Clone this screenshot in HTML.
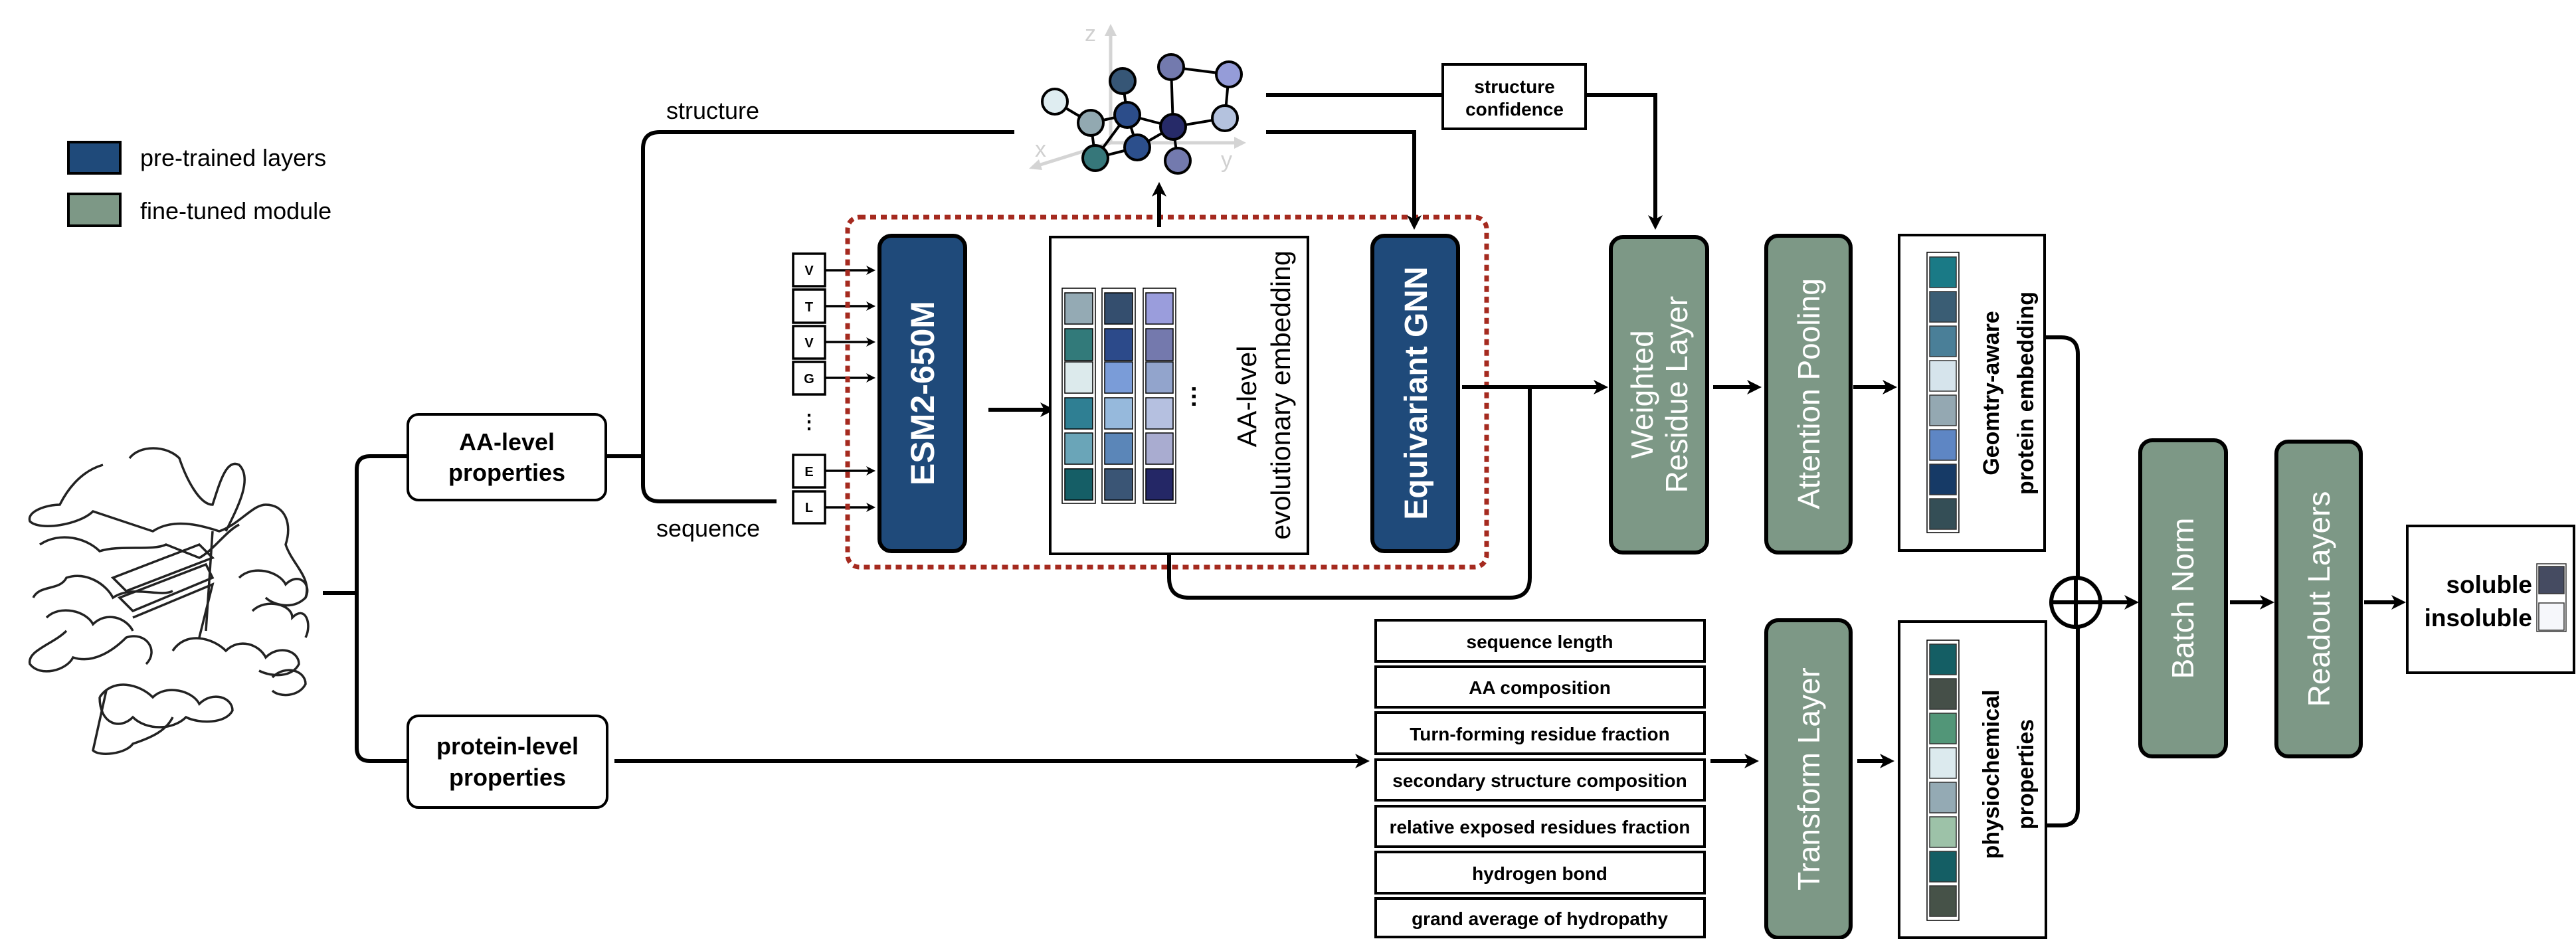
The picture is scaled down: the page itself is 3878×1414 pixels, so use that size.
<!DOCTYPE html>
<html><head><meta charset="utf-8"><style>
html,body{margin:0;padding:0;background:#fff;}
svg{display:block;font-family:"Liberation Sans",Arial,sans-serif;}
</style></head><body>
<svg width="3878" height="1414" viewBox="0 0 3878 1414" xmlns="http://www.w3.org/2000/svg">
<style>
.ln{fill:none;stroke:#000;stroke-width:6}
.thin{fill:none;stroke:#000;stroke-width:3.5}
</style>

<!-- legend -->
<rect x="103" y="214" width="78" height="47" fill="#1f4a7a" stroke="#000" stroke-width="4"/>
<rect x="103" y="292" width="78" height="48" fill="#7d9886" stroke="#000" stroke-width="4"/>
<text x="211" y="250" font-size="36">pre-trained layers</text>
<text x="211" y="330" font-size="36">fine-tuned module</text>

<!-- protein cartoon (approximation) -->
<g fill="none" stroke="#222" stroke-width="3.5">
<path d="M155 700 C120 710 100 740 90 760 C70 760 40 770 45 785 C60 800 120 790 140 770 C170 780 200 790 230 800 C260 780 300 790 330 800 C360 790 380 760 400 760 C430 760 440 790 430 820 C440 850 470 870 460 900"/>
<path d="M60 820 C90 800 130 810 150 830 C180 820 230 830 250 820 L300 840 C320 830 340 800 360 790"/>
<path d="M50 900 C60 880 90 890 100 870 C130 860 160 880 170 900 C200 880 240 900 260 890"/>
<path d="M195 690 C210 670 250 670 270 690 C280 720 300 760 320 760 C330 730 340 690 360 700 C380 720 360 760 340 800"/>
<path d="M100 950 C80 970 40 980 45 1000 C60 1020 100 1010 110 990 C140 1000 170 980 190 960 C220 950 240 980 220 1000"/>
<path d="M150 1050 C170 1020 210 1030 230 1050 C250 1030 290 1040 300 1060 C320 1040 350 1050 350 1070 C340 1090 300 1090 280 1080 C260 1100 220 1100 200 1080 C180 1100 150 1090 150 1050"/>
<path d="M260 980 C280 950 320 960 340 980 C360 960 390 970 400 990 C420 970 450 980 450 1000 C440 1020 410 1020 390 1010"/>
<path d="M360 870 C380 850 420 860 430 880 C450 860 470 880 460 900 C440 920 410 910 400 900"/>
<path d="M170 870 L300 820 L320 840 L190 890 Z"/>
<path d="M180 900 L310 850 L320 870 L200 920 Z"/>
<path d="M200 930 L320 880 L300 960"/>
<path d="M320 800 L310 950"/>
<path d="M70 930 C90 910 130 920 140 940 C160 920 190 930 200 950"/>
<path d="M380 920 C400 900 440 910 440 930 C460 910 470 940 460 960"/>
<path d="M410 1020 C430 1000 460 1010 460 1030 C450 1050 420 1050 410 1040"/>
<path d="M160 1040 L140 1130 C150 1140 190 1135 200 1120 C230 1110 250 1100 260 1080"/>
</g>

<!-- left tree -->
<path class="ln" d="M486 893 H537"/>
<path class="ln" d="M614 687 H557 Q537 687 537 707 V1126 Q537 1146 557 1146 H614"/>
<rect x="614" y="624" width="298" height="129" rx="16" fill="#fff" stroke="#000" stroke-width="4"/>
<text x="763" y="678" font-size="36" font-weight="bold" text-anchor="middle">AA-level</text>
<text x="763" y="724" font-size="36" font-weight="bold" text-anchor="middle">properties</text>
<rect x="614" y="1078" width="300" height="138" rx="16" fill="#fff" stroke="#000" stroke-width="4"/>
<text x="764" y="1136" font-size="36" font-weight="bold" text-anchor="middle">protein-level</text>
<text x="764" y="1183" font-size="36" font-weight="bold" text-anchor="middle">properties</text>

<!-- structure/sequence -->
<path class="ln" d="M912 687 H968"/>
<path class="ln" d="M1527 199 H993 Q968 199 968 224 V730 Q968 755 993 755 H1169"/>
<text x="1003" y="179" font-size="36">structure</text>
<text x="988" y="808" font-size="36">sequence</text>

<!-- tokens -->
<g font-size="20" font-weight="bold" text-anchor="middle">
<rect x="1194" y="382" width="48" height="49" fill="#fff" stroke="#000" stroke-width="3.5"/><text x="1218" y="414">V</text>
<rect x="1194" y="436" width="48" height="50" fill="#fff" stroke="#000" stroke-width="3.5"/><text x="1218" y="469">T</text>
<rect x="1194" y="491" width="48" height="49" fill="#fff" stroke="#000" stroke-width="3.5"/><text x="1218" y="523">V</text>
<rect x="1194" y="545" width="48" height="49" fill="#fff" stroke="#000" stroke-width="3.5"/><text x="1218" y="577">G</text>
<text x="1218" y="645" font-size="30">⋮</text>
<rect x="1194" y="685" width="48" height="49" fill="#fff" stroke="#000" stroke-width="3.5"/><text x="1218" y="717">E</text>
<rect x="1194" y="740" width="48" height="48" fill="#fff" stroke="#000" stroke-width="3.5"/><text x="1218" y="771">L</text>
</g>
<g class="thin">
<path d="M1242 407 H1312"/><path d="M1242 461 H1312"/><path d="M1242 515 H1312"/><path d="M1242 569 H1312"/><path d="M1242 709 H1312"/><path d="M1242 764 H1312"/>
</g>
<g fill="#000">
<path d="M1318 407 l-14 -7 l4 7 l-4 7z"/><path d="M1318 461 l-14 -7 l4 7 l-4 7z"/><path d="M1318 515 l-14 -7 l4 7 l-4 7z"/><path d="M1318 569 l-14 -7 l4 7 l-4 7z"/><path d="M1318 709 l-14 -7 l4 7 l-4 7z"/><path d="M1318 764 l-14 -7 l4 7 l-4 7z"/>
</g>

<!-- red dotted -->
<rect x="1276" y="327" width="962" height="527" rx="18" fill="none" stroke="#a52a1f" stroke-width="7" stroke-dasharray="9,7"/>

<!-- ESM -->
<rect x="1324" y="355" width="129" height="475" rx="18" fill="#1f4a7a" stroke="#000" stroke-width="6"/>
<text transform="translate(1406,592) rotate(-90)" font-size="50" font-weight="bold" fill="#fff" text-anchor="middle">ESM2-650M</text>
<path class="ln" d="M1488 617 H1572"/><path d="M1588 617 l-22 -11 l6 11 l-6 11z"/>

<!-- embedding box -->
<rect x="1581" y="357" width="388" height="477" fill="#fff" stroke="#000" stroke-width="4"/>
<g stroke="#000" stroke-width="1.5">
<rect x="1599" y="434" width="50" height="324" fill="#fff"/>
<rect x="1659" y="434" width="50" height="324" fill="#fff"/>
<rect x="1721" y="434" width="49" height="324" fill="#fff"/>
<rect x="1603" y="441" width="42" height="47" fill="#94aab4"/><rect x="1603" y="495" width="42" height="48" fill="#327a7a"/><rect x="1603" y="545" width="42" height="47" fill="#dceaec"/><rect x="1603" y="599" width="42" height="47" fill="#2f7f93"/><rect x="1603" y="652" width="42" height="47" fill="#6aa5b8"/><rect x="1603" y="706" width="42" height="47" fill="#155e66"/>
<rect x="1663" y="441" width="42" height="47" fill="#344e6e"/><rect x="1663" y="495" width="42" height="48" fill="#2c4a8a"/><rect x="1663" y="545" width="42" height="47" fill="#7a9cd8"/><rect x="1663" y="599" width="42" height="47" fill="#96b9dc"/><rect x="1663" y="652" width="42" height="47" fill="#5b86b8"/><rect x="1663" y="706" width="42" height="47" fill="#3a5575"/>
<rect x="1725" y="441" width="41" height="47" fill="#9a9ddc"/><rect x="1725" y="495" width="41" height="48" fill="#7479ad"/><rect x="1725" y="545" width="41" height="47" fill="#92a4cc"/><rect x="1725" y="599" width="41" height="47" fill="#b5c0e0"/><rect x="1725" y="652" width="41" height="47" fill="#a9acd0"/><rect x="1725" y="706" width="41" height="47" fill="#242766"/>
</g>
<text transform="translate(1800,597) rotate(-90)" font-size="36" font-weight="bold" text-anchor="middle">…</text>
<text transform="translate(1891,597) rotate(-90)" font-size="41" text-anchor="middle">AA-level</text>
<text transform="translate(1942,595) rotate(-90)" font-size="41" text-anchor="middle">evolutionary embedding</text>
<path class="ln" d="M1745 342 V288"/><path d="M1745 274 l-11 22 l11 -6 l11 6z"/>

<!-- graph -->
<g stroke="#d4d4d4" stroke-width="5" fill="#d4d4d4">
<path d="M1672 215 V48" fill="none"/><path d="M1672 36 l-9 18 h18z" stroke="none"/>
<path d="M1672 215 H1862" fill="none"/><path d="M1876 215 l-18 -9 v18z" stroke="none"/>
<path d="M1672 215 L1560 250" fill="none"/><path d="M1549 254 l20 2 l-5 -16z" stroke="none"/>
</g>
<g fill="#d0d0d0" font-size="34"><text x="1633" y="62">z</text><text x="1558" y="236">x</text><text x="1838" y="252">y</text></g>
<g stroke="#000" stroke-width="4">
<line x1="1588" y1="153" x2="1642" y2="185"/><line x1="1642" y1="185" x2="1697" y2="173"/><line x1="1690" y1="122" x2="1697" y2="173"/>
<line x1="1642" y1="185" x2="1649" y2="238"/><line x1="1697" y1="173" x2="1649" y2="238"/><line x1="1649" y1="238" x2="1712" y2="222"/>
<line x1="1697" y1="173" x2="1712" y2="222"/><line x1="1697" y1="173" x2="1766" y2="191"/><line x1="1712" y1="222" x2="1766" y2="191"/>
<line x1="1763" y1="101" x2="1766" y2="191"/><line x1="1763" y1="101" x2="1850" y2="112"/><line x1="1850" y1="112" x2="1844" y2="178"/>
<line x1="1766" y1="191" x2="1844" y2="178"/><line x1="1766" y1="191" x2="1773" y2="242"/>
</g>
<g stroke="#000" stroke-width="4">
<circle cx="1588" cy="153" r="19" fill="#dfedf1"/><circle cx="1642" cy="185" r="19" fill="#92a9b1"/><circle cx="1690" cy="122" r="19" fill="#365676"/>
<circle cx="1697" cy="173" r="19" fill="#2c4d8a"/><circle cx="1763" cy="101" r="19" fill="#737aae"/><circle cx="1850" cy="112" r="19" fill="#959cd8"/>
<circle cx="1766" cy="191" r="19" fill="#262a68"/><circle cx="1844" cy="178" r="19" fill="#b4c2de"/><circle cx="1712" cy="222" r="19" fill="#2c4f8c"/>
<circle cx="1649" cy="238" r="19" fill="#36777a"/><circle cx="1773" cy="242" r="19" fill="#737aae"/>
</g>

<!-- structure confidence -->
<path class="ln" d="M1906 143 H2172"/>
<rect x="2172" y="97" width="215" height="97" fill="#fff" stroke="#000" stroke-width="4"/>
<text x="2280" y="140" font-size="28" font-weight="bold" text-anchor="middle">structure</text>
<text x="2280" y="174" font-size="28" font-weight="bold" text-anchor="middle">confidence</text>
<path class="ln" d="M2387 143 H2492 V330"/><path d="M2492 346 l-11 -22 l11 6 l11 -6z"/>
<path class="ln" d="M1906 199 H2129 V330"/><path d="M2129 346 l-11 -22 l11 6 l11 -6z"/>

<!-- GNN -->
<rect x="2066" y="355" width="129" height="475" rx="18" fill="#1f4a7a" stroke="#000" stroke-width="6"/>
<text transform="translate(2148,592) rotate(-90)" font-size="48" font-weight="bold" fill="#fff" text-anchor="middle">Equivariant GNN</text>
<path class="ln" d="M2201 583 H2405"/><path d="M2421 583 l-22 -11 l6 11 l-6 11z"/>
<path class="ln" d="M1760 834 V870 Q1760 900 1790 900 H2273 Q2303 900 2303 870 V583"/>

<!-- weighted -->
<rect x="2425" y="357" width="145" height="475" rx="18" fill="#7d9886" stroke="#000" stroke-width="6"/>
<text transform="translate(2496,594) rotate(-90)" font-size="46" fill="#fff" text-anchor="middle"><tspan x="0" dy="-8">Weighted</tspan><tspan x="0" dy="52">Residue Layer</tspan></text>
<path class="ln" d="M2579 583 H2636"/><path d="M2652 583 l-22 -11 l6 11 l-6 11z"/>

<!-- attention -->
<rect x="2659" y="355" width="127" height="477" rx="18" fill="#7d9886" stroke="#000" stroke-width="6"/>
<text transform="translate(2739,593) rotate(-90)" font-size="46" fill="#fff" text-anchor="middle">Attention Pooling</text>
<path class="ln" d="M2790 583 H2840"/><path d="M2856 583 l-22 -11 l6 11 l-6 11z"/>

<!-- geo embedding -->
<rect x="2859" y="354" width="219" height="475" fill="#fff" stroke="#000" stroke-width="4"/>
<rect x="2901" y="380" width="48" height="422" fill="#fff" stroke="#000" stroke-width="1.5"/>
<g stroke="#333" stroke-width="1.5">
<rect x="2905" y="387" width="40" height="46" fill="#1a7a86"/><rect x="2905" y="439" width="40" height="46" fill="#3a5d74"/><rect x="2905" y="491" width="40" height="46" fill="#4a7f98"/><rect x="2905" y="543" width="40" height="46" fill="#d6e4ec"/>
<rect x="2905" y="595" width="40" height="46" fill="#94a8b2"/><rect x="2905" y="647" width="40" height="46" fill="#5e86c4"/><rect x="2905" y="699" width="40" height="46" fill="#163a66"/><rect x="2905" y="751" width="40" height="46" fill="#344e56"/>
</g>
<text transform="translate(3023,592) rotate(-90)" font-size="34" font-weight="bold" text-anchor="middle"><tspan x="0" dy="-14">Geomtry-aware</tspan><tspan x="0" dy="52">protein embedding</tspan></text>

<!-- property list -->
<path class="ln" d="M925 1146 H2046"/><path d="M2062 1146 l-22 -11 l6 11 l-6 11z"/>
<g fill="#fff" stroke="#000" stroke-width="4">
<rect x="2071" y="934" width="495" height="62"/><rect x="2071" y="1004" width="495" height="61"/><rect x="2071" y="1073" width="495" height="62"/>
<rect x="2071" y="1144" width="495" height="61"/><rect x="2071" y="1214" width="495" height="61"/><rect x="2071" y="1283" width="495" height="62"/><rect x="2071" y="1353" width="495" height="58"/>
</g>
<g font-size="28" font-weight="bold" text-anchor="middle">
<text x="2318" y="976">sequence length</text><text x="2318" y="1045">AA composition</text><text x="2318" y="1115">Turn-forming residue fraction</text>
<text x="2318" y="1185">secondary structure composition</text><text x="2318" y="1255">relative exposed residues fraction</text><text x="2318" y="1325">hydrogen bond</text><text x="2318" y="1393">grand average of hydropathy</text>
</g>
<path class="ln" d="M2575 1146 H2632"/><path d="M2648 1146 l-22 -11 l6 11 l-6 11z"/>

<!-- transform -->
<rect x="2659" y="934" width="127" height="478" rx="18" fill="#7d9886" stroke="#000" stroke-width="6"/>
<text transform="translate(2739,1173) rotate(-90)" font-size="46" fill="#fff" text-anchor="middle">Transform Layer</text>
<path class="ln" d="M2796 1146 H2836"/><path d="M2852 1146 l-22 -11 l6 11 l-6 11z"/>

<!-- physio -->
<rect x="2859" y="936" width="221" height="476" fill="#fff" stroke="#000" stroke-width="4"/>
<rect x="2901" y="964" width="48" height="422" fill="#fff" stroke="#000" stroke-width="1.5"/>
<g stroke="#333" stroke-width="1.5">
<rect x="2905" y="970" width="40" height="46" fill="#145e64"/><rect x="2905" y="1022" width="40" height="46" fill="#454f48"/><rect x="2905" y="1074" width="40" height="46" fill="#529678"/><rect x="2905" y="1126" width="40" height="46" fill="#dceaee"/>
<rect x="2905" y="1178" width="40" height="46" fill="#94aab4"/><rect x="2905" y="1230" width="40" height="46" fill="#9dc2a8"/><rect x="2905" y="1282" width="40" height="46" fill="#145e64"/><rect x="2905" y="1334" width="40" height="46" fill="#465248"/>
</g>
<text transform="translate(3023,1166) rotate(-90)" font-size="34" font-weight="bold" text-anchor="middle"><tspan x="0" dy="-14">physiochemical</tspan><tspan x="0" dy="52">properties</tspan></text>

<!-- merge -->
<path class="ln" d="M3080 508 H3103 Q3128 508 3128 533 V1218 Q3128 1243 3103 1243 H3080"/>
<circle cx="3125" cy="907" r="37" fill="#fff" stroke="#000" stroke-width="6"/>
<path class="ln" d="M3125 870 V944 M3088 907 H3162"/>
<path class="ln" d="M3162 907 H3204"/><path d="M3220 907 l-22 -11 l6 11 l-6 11z"/>

<!-- batch norm / readout -->
<rect x="3222" y="663" width="129" height="476" rx="18" fill="#7d9886" stroke="#000" stroke-width="6"/>
<text transform="translate(3302,901) rotate(-90)" font-size="46" fill="#fff" text-anchor="middle">Batch Norm</text>
<path class="ln" d="M3357 907 H3408"/><path d="M3424 907 l-22 -11 l6 11 l-6 11z"/>
<rect x="3427" y="665" width="127" height="474" rx="18" fill="#7d9886" stroke="#000" stroke-width="6"/>
<text transform="translate(3507,902) rotate(-90)" font-size="46" fill="#fff" text-anchor="middle">Readout Layers</text>
<path class="ln" d="M3559 907 H3606"/><path d="M3622 907 l-22 -11 l6 11 l-6 11z"/>

<!-- output -->
<rect x="3624" y="792" width="251" height="221" fill="#fff" stroke="#000" stroke-width="4"/>
<text x="3812" y="893" font-size="37" font-weight="bold" text-anchor="end">soluble</text>
<text x="3812" y="943" font-size="37" font-weight="bold" text-anchor="end">insoluble</text>
<rect x="3819" y="849" width="44" height="102" fill="#fff" stroke="#333" stroke-width="1.5"/>
<rect x="3822" y="853" width="38" height="41" fill="#454b61" stroke="#333" stroke-width="1.5"/>
<rect x="3822" y="908" width="38" height="41" fill="#f6f7fb" stroke="#333" stroke-width="1.5"/>
</svg>
</body></html>
